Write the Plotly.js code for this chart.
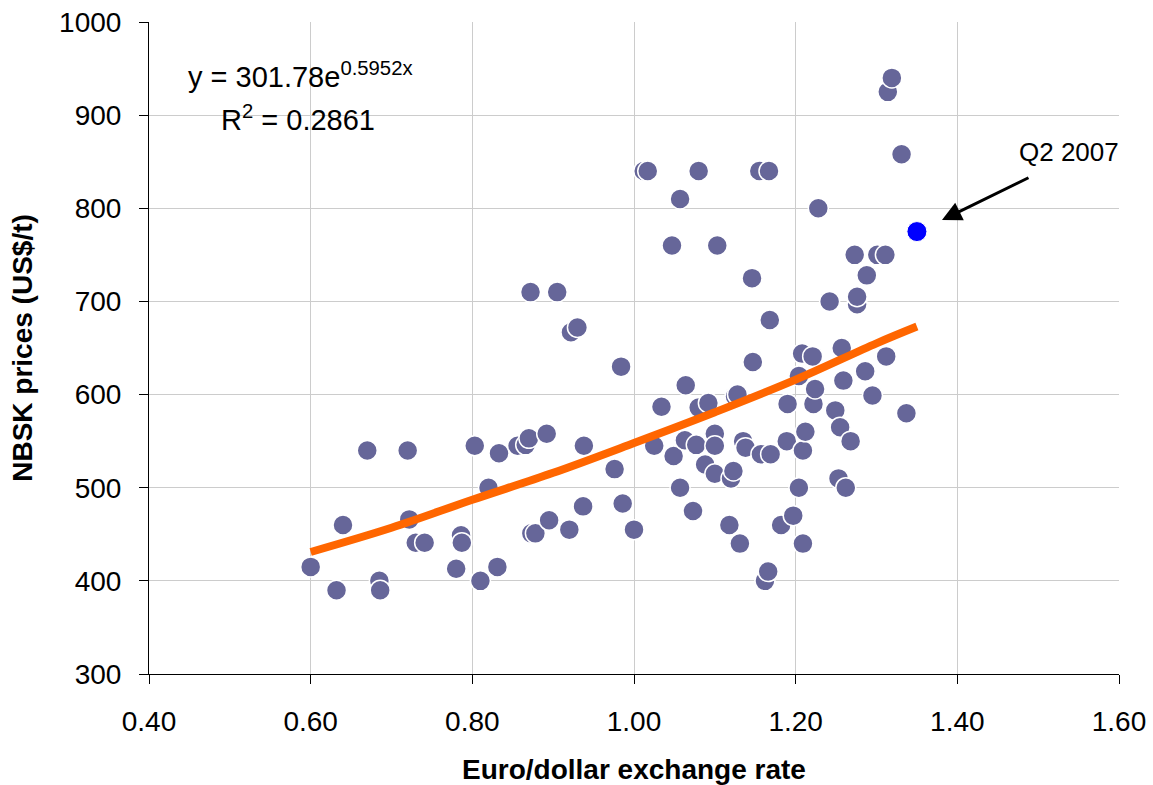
<!DOCTYPE html>
<html>
<head>
<meta charset="utf-8">
<script src="https://cdn.plot.ly/plotly-3.0.1.min.js"></script>
<style>
  html, body { margin: 0; padding: 0; background: #fff; }
  #chart { width: 1153px; height: 785px; }
</style>
</head>
<body>
<div id="chart"></div>
<script>
// Euro/dollar exchange rate (x) vs NBSK price US$/t (y)
const rateX = [
  0.600, 0.632, 0.640, 0.670, 0.685, 0.686, 0.720, 0.722, 0.730, 0.741,
  0.780, 0.786, 0.787, 0.803, 0.810, 0.820, 0.831, 0.833, 0.856, 0.866,
  0.870, 0.892, 0.873, 0.878, 0.895, 0.920, 0.937, 0.938, 0.872, 0.905,
  0.922, 0.930, 0.976, 0.984, 0.986, 1.000, 1.012, 1.017, 1.025, 1.034,
  1.047, 1.049, 1.057, 1.057, 1.063, 1.064, 1.073, 1.077, 1.080, 1.080,
  1.088, 1.092, 1.100, 1.100, 1.100, 1.103, 1.118, 1.120, 1.123, 1.125,
  1.128, 1.131, 1.135, 1.138, 1.146, 1.147, 1.155, 1.157, 1.162, 1.166,
  1.167, 1.168, 1.169, 1.182, 1.189, 1.190, 1.197, 1.204, 1.204, 1.208,
  1.209, 1.209, 1.212, 1.221, 1.222, 1.224, 1.228, 1.242, 1.249, 1.253,
  1.255, 1.257, 1.259, 1.262, 1.268, 1.273, 1.276, 1.276, 1.286, 1.288,
  1.295, 1.301, 1.311, 1.312, 1.314, 1.319, 1.331, 1.337
];
const priceY = [
  415, 390, 460, 540, 400, 390, 540, 466, 441, 441,
  413, 449, 441, 545, 400, 500, 415, 537, 545, 546,
  553, 558, 451, 451, 465, 455, 480, 545, 710, 710,
  667, 672, 520, 630, 483, 455, 840, 840, 545, 587,
  760, 534, 810, 500, 551, 610, 475, 546, 840, 586,
  525, 591, 558, 545, 515, 760, 460, 510, 518, 598,
  600, 440, 550, 543, 725, 635, 840, 536, 400, 410,
  840, 680, 536, 460, 550, 590, 470, 620, 500, 644,
  540, 440, 560, 641, 590, 606, 800, 700, 583, 510,
  565, 650, 615, 500, 550, 750, 697, 705, 625, 728,
  599, 750, 750, 641, 925, 940, 858, 580
];

// Highlighted observation
const q2X = [1.350];
const q2Y = [775];

// Exponential trend line
const trendX = [0.60, 0.70, 0.80, 0.90, 1.00, 1.10, 1.20, 1.30, 1.35];
const trendY = [431, 457, 487, 516, 548, 581, 616, 655, 673];

const xTicks = [0.4, 0.6, 0.8, 1.0, 1.2, 1.4, 1.6];
const xTickText = ['0.40', '0.60', '0.80', '1.00', '1.20', '1.40', '1.60'];
const yTicks = [300, 400, 500, 600, 700, 800, 900, 1000];

const FONT = 'Liberation Sans, Arial, Helvetica, sans-serif';

const traces = [
  {
    x: rateX, y: priceY, type: 'scatter', mode: 'markers',
    marker: { size: 20, color: '#666699', line: { color: '#ffffff', width: 1.5 } },
    hoverinfo: 'x+y', showlegend: false
  },
  {
    x: trendX, y: trendY, type: 'scatter', mode: 'lines',
    line: { color: '#FF6600', width: 8, shape: 'spline' },
    hoverinfo: 'skip', showlegend: false
  },
  {
    x: q2X, y: q2Y, type: 'scatter', mode: 'markers',
    marker: { size: 20, color: '#0000FF', line: { color: '#ffffff', width: 1 } },
    hoverinfo: 'x+y', showlegend: false
  }
];

const layout = {
  width: 1153, height: 785,
  margin: { l: 149, r: 34, t: 22, b: 111 },
  paper_bgcolor: '#ffffff', plot_bgcolor: '#ffffff',
  font: { family: FONT, color: '#000000', size: 28 },
  showlegend: false,
  xaxis: {
    range: [0.4, 1.6], tickvals: xTicks, ticktext: xTickText,
    showgrid: true, gridcolor: '#cccccc', gridwidth: 1,
    zeroline: false, showline: true, linecolor: '#000000', linewidth: 1,
    ticks: 'outside', ticklen: 9, tickcolor: '#000000', tickwidth: 1,
    ticklabelstandoff: 13,
    tickfont: { family: FONT, size: 28, color: '#000000' },
    title: { text: '<b>Euro/dollar exchange rate</b>', font: { family: FONT, size: 28, color: '#000000' }, standoff: 24 },
    fixedrange: true
  },
  yaxis: {
    range: [300, 1000], tickvals: yTicks,
    showgrid: true, gridcolor: '#cccccc', gridwidth: 1,
    zeroline: false, showline: true, linecolor: '#000000', linewidth: 1,
    ticks: 'outside', ticklen: 9, tickcolor: '#000000', tickwidth: 1,
    ticklabelstandoff: 12,
    tickfont: { family: FONT, size: 28, color: '#000000' },
    title: { text: '<b>NBSK prices (US$/t)</b>', font: { family: FONT, size: 28, color: '#000000' }, standoff: 18 },
    fixedrange: true
  },
  shapes: [
    { type: 'rect', xref: 'paper', yref: 'paper', x0: 0.032, x1: 0.2814, y0: 0.8113, y1: 0.9693,
      fillcolor: '#ffffff', line: { width: 0 }, layer: 'between' }
  ],
  annotations: [
    { xref: 'paper', yref: 'paper', x: 0.1557, y: 0.9187, xanchor: 'center', yanchor: 'middle',
      text: 'y = 301.78e<sup>0.5952x</sup>', showarrow: false, font: { family: FONT, size: 29, color: '#000000' } },
    { xref: 'paper', yref: 'paper', x: 0.1537, y: 0.8528, xanchor: 'center', yanchor: 'middle',
      text: 'R<sup>2</sup> = 0.2861', showarrow: false, font: { family: FONT, size: 29, color: '#000000' } },
    { xref: 'paper', yref: 'paper', x: 0.9485, y: 0.8006, xanchor: 'center', yanchor: 'middle',
      text: 'Q2 2007', showarrow: false, font: { family: FONT, size: 26, color: '#000000' } },
    { xref: 'x', yref: 'y', x: 1.381, y: 787.4, ax: 88, ay: -43, text: '',
      showarrow: true, arrowhead: 2, arrowsize: 1.3, arrowwidth: 3, arrowcolor: '#000000' }
  ]
};

Plotly.newPlot('chart', traces, layout, { displayModeBar: false, staticPlot: true });
</script>
</body>
</html>
